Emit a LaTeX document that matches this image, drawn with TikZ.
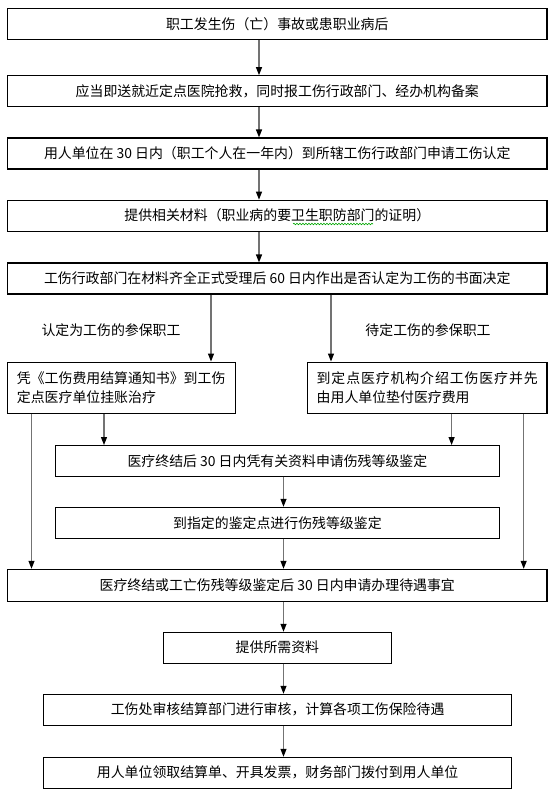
\documentclass[tikz,border=0pt]{standalone}
\usepackage{fontspec}
\setmainfont{Noto Sans CJK SC}
\usetikzlibrary{arrows.meta,decorations.pathmorphing}
\newcommand{\fsz}{\fontsize{13.9pt}{19.5pt}\selectfont}
\begin{document}
\begin{tikzpicture}[x=1pt,y=-1pt,
  box/.style={draw=black, line width=1.1pt, inner sep=0pt, minimum height=31pt, align=center, font=\fsz},
  lbl/.style={inner sep=0pt, font=\fsz},
  arr/.style={draw=black!55, line width=1.2pt, -{Triangle[width=6pt,length=8pt,color=black]}},
  squig/.style={draw=green!65!black, line width=0.6pt, decorate, decoration={snake, amplitude=0.8pt, segment length=3pt}}]
\useasboundingbox (0,0) rectangle (554,795);
% column coordinates
\coordinate (cA) at (259,0);
\coordinate (cB) at (283.5,0);
\coordinate (cBr1) at (211,0);
\coordinate (cBr2) at (331,0);
\coordinate (cL1) at (31.5,0);
\coordinate (cL2) at (104,0);
\coordinate (cR1) at (451.6,0);
\coordinate (cR2) at (523.7,0);
% boxes
\node[box, minimum width=539.5pt] (b1) at (277.25,23.8) {职工发生伤（亡）事故或患职业病后};
\node[box, minimum width=539.5pt] (b2) at (277.25,91.2) {应当即送就近定点医院抢救，同时报工伤行政部门、经办机构备案};
\node[box, minimum width=539.5pt] (b3) at (277.25,153.5) {用人单位在 30 日内（职工个人在一年内）到所辖工伤行政部门申请工伤认定};
\node[box, minimum width=539.5pt] (b4) at (277.25,215.7) {提供相关材料（职业病的要卫生职防部门的证明）};
\node[box, minimum width=539.5pt] (b5) at (277.25,278.5) {工伤行政部门在材料齐全正式受理后 60 日内作出是否认定为工伤的书面决定};
\node[lbl] (lab1) at (111,330) {认定为工伤的参保职工};
\node[lbl] (lab2) at (428,330) {待定工伤的参保职工};
\node[box, minimum width=227.8pt, minimum height=51.3pt, align=left, text width=209pt] (bL) at (121.4,387.7)
  {凭《工伤费用结算通知书》到工伤\\定点医疗单位挂账治疗};
\node[box, minimum width=239.6pt, minimum height=51.3pt, align=left, text width=221pt] (bR) at (427.2,387.7)
  {\makebox[221pt][s]{到\hfil 定\hfil 点\hfil 医\hfil 疗\hfil 机\hfil 构\hfil 介\hfil 绍\hfil 工\hfil 伤\hfil 医\hfil 疗\hfil 并\hfil 先}\\由用人单位垫付医疗费用};
\node[box, minimum width=443.8pt, minimum height=30.5pt] (b6) at (277.4,460.8) {医疗终结后 30 日内凭有关资料申请伤残等级鉴定};
\node[box, minimum width=443.8pt, minimum height=30.7pt] (b7) at (277.4,522.7) {到指定的鉴定点进行伤残等级鉴定};
\node[box, minimum width=539.5pt, minimum height=32.4pt] (b8) at (277.25,585.5) {医疗终结或工亡伤残等级鉴定后 30 日内申请办理待遇事宜};
\node[box, minimum width=228.2pt, minimum height=30.7pt] (b9) at (277.4,647.7) {提供所需资料};
\node[box, minimum width=468.2pt] (b10) at (277.6,709.8) {工伤处审核结算部门进行审核，计算各项工伤保险待遇};
\node[box, minimum width=468.2pt] (b11) at (277.6,772.8) {用人单位领取结算单、开具发票，财务部门拨付到用人单位};
% wavy underline
\coordinate (sq1) at (293,224);
\coordinate (sq2) at (373,224);
\draw[squig] (sq1) -- (sq2);
% connectors
\draw[arr] (b1.south -| cA) -- (b2.north -| cA);
\draw[arr] (b2.south -| cA) -- (b3.north -| cA);
\draw[arr] (b3.south -| cA) -- (b4.north -| cA);
\draw[arr] (b4.south -| cA) -- (b5.north -| cA);
\draw[arr] (b5.south -| cBr1) -- (bL.north -| cBr1);
\draw[arr] (b5.south -| cBr2) -- (bR.north -| cBr2);
\draw[arr] (bL.south -| cL1) -- (b8.north -| cL1);
\draw[arr] (bL.south -| cL2) -- (b6.north -| cL2);
\draw[arr] (bR.south -| cR1) -- (b6.north -| cR1);
\draw[arr] (bR.south -| cR2) -- (b8.north -| cR2);
\draw[arr] (b6.south -| cB) -- (b7.north -| cB);
\draw[arr] (b7.south -| cB) -- (b8.north -| cB);
\draw[arr] (b8.south -| cB) -- (b9.north -| cB);
\draw[arr] (b9.south -| cB) -- (b10.north -| cB);
\draw[arr] (b10.south -| cB) -- (b11.north -| cB);
\end{tikzpicture}
\end{document}
